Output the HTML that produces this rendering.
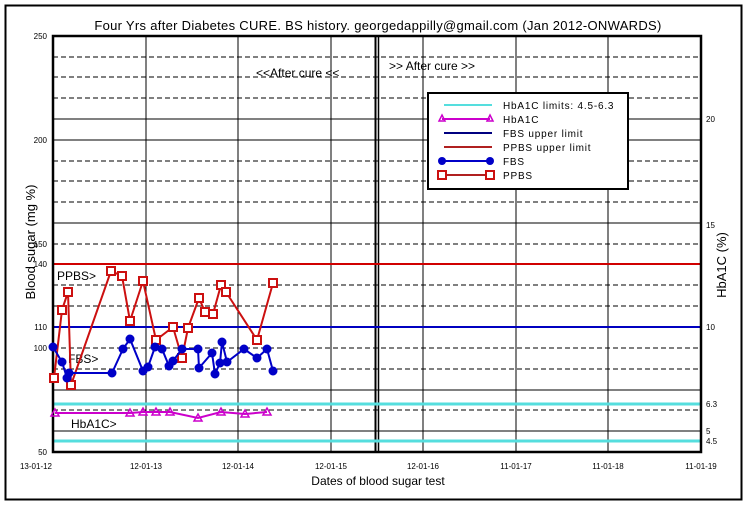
<!DOCTYPE html><html><head><style>body{margin:0;background:#fff}svg{display:block;font-family:"Liberation Sans",sans-serif}</style></head><body>
<svg width="749" height="507" xmlns="http://www.w3.org/2000/svg">
<rect x="0" y="0" width="749" height="507" fill="#fff"/>
<rect x="5.5" y="5.5" width="736" height="494" fill="none" stroke="#000" stroke-width="2"/>
<text x="378" y="30" font-size="13" text-anchor="middle" letter-spacing="0.3">Four Yrs after Diabetes CURE. BS history. georgedappilly@gmail.com (Jan 2012-ONWARDS)</text>
<g stroke="#000" stroke-width="1" stroke-dasharray="5,3">
<line x1="53" x2="701" y1="57" y2="57"/><line x1="53" x2="701" y1="77" y2="77"/><line x1="53" x2="701" y1="98" y2="98"/>
<line x1="53" x2="701" y1="161" y2="161"/><line x1="53" x2="701" y1="181" y2="181"/><line x1="53" x2="701" y1="202" y2="202"/>
<line x1="53" x2="701" y1="244" y2="244"/><line x1="53" x2="701" y1="285" y2="285"/><line x1="53" x2="701" y1="306" y2="306"/>
<line x1="53" x2="701" y1="348" y2="348"/><line x1="53" x2="701" y1="369" y2="369"/><line x1="53" x2="701" y1="410" y2="410"/>
</g>
<g stroke="#000" stroke-width="1">
<line x1="53" x2="701" y1="119" y2="119"/><line x1="53" x2="701" y1="140" y2="140"/><line x1="53" x2="701" y1="223" y2="223"/><line x1="53" x2="701" y1="390" y2="390"/><line x1="53" x2="701" y1="431" y2="431"/>
<line x1="146" x2="146" y1="36" y2="452"/><line x1="238" x2="238" y1="36" y2="452"/><line x1="331" x2="331" y1="36" y2="452"/>
<line x1="423" x2="423" y1="36" y2="452"/><line x1="516" x2="516" y1="36" y2="452"/><line x1="608" x2="608" y1="36" y2="452"/>
</g>
<line x1="375.5" x2="375.5" y1="36" y2="452" stroke="#000" stroke-width="2"/>
<line x1="378.5" x2="378.5" y1="36" y2="452" stroke="#000" stroke-width="1.5"/>
<line x1="53" x2="701" y1="404" y2="404" stroke="#55dede" stroke-width="3"/>
<line x1="53" x2="701" y1="441" y2="441" stroke="#55dede" stroke-width="3"/>
<line x1="53" x2="701" y1="264" y2="264" stroke="#d00000" stroke-width="2"/>
<line x1="53" x2="701" y1="327" y2="327" stroke="#0000c0" stroke-width="2"/>
<rect x="53" y="36" width="648" height="416" fill="none" stroke="#000" stroke-width="2.5"/>
<text x="256" y="77" font-size="12">&lt;&lt;After cure &lt;&lt;</text>
<text x="389" y="70" font-size="12">&gt;&gt; After cure &gt;&gt;</text>
<text x="57" y="280" font-size="12">PPBS&gt;</text>
<text x="68" y="363" font-size="12">FBS&gt;</text>
<text x="71" y="428" font-size="12">HbA1C&gt;</text>
<polyline fill="none" stroke="#cc00cc" stroke-width="2" points="55,413 130,413 143,412 156,412 170,412 198,418 221,412 245,414 267,412"/>
<g fill="none" stroke="#cc00cc" stroke-width="1.5">
<path d="M55,409l4,7h-8z"/><path d="M130,409l4,7h-8z"/><path d="M143,408l4,7h-8z"/><path d="M156,408l4,7h-8z"/><path d="M170,408l4,7h-8z"/><path d="M198,414l4,7h-8z"/><path d="M221,408l4,7h-8z"/><path d="M245,410l4,7h-8z"/><path d="M267,408l4,7h-8z"/></g>
<polyline fill="none" stroke="#cc1010" stroke-width="2" points="54,378 62,310 68,292 71,385 111,271 122,276 130,321 143,281 156,340 173,327 182,358 188,328 199,298 205,312 213,314 221,285 226,292 257,340 273,283"/>
<g fill="#fff" stroke="#cc1010" stroke-width="2">
<rect x="50" y="374" width="8" height="8"/><rect x="58" y="306" width="8" height="8"/><rect x="64" y="288" width="8" height="8"/><rect x="67" y="381" width="8" height="8"/><rect x="107" y="267" width="8" height="8"/><rect x="118" y="272" width="8" height="8"/><rect x="126" y="317" width="8" height="8"/><rect x="139" y="277" width="8" height="8"/><rect x="152" y="336" width="8" height="8"/><rect x="169" y="323" width="8" height="8"/><rect x="178" y="354" width="8" height="8"/><rect x="184" y="324" width="8" height="8"/><rect x="195" y="294" width="8" height="8"/><rect x="201" y="308" width="8" height="8"/><rect x="209" y="310" width="8" height="8"/><rect x="217" y="281" width="8" height="8"/><rect x="222" y="288" width="8" height="8"/><rect x="253" y="336" width="8" height="8"/><rect x="269" y="279" width="8" height="8"/></g>
<polyline fill="none" stroke="#0000c8" stroke-width="2" points="53,347 62,362 67,378 69,373 112,373 123,349 130,339 143,371 148,367 155,347 162,349 169,366 173,361 182,349 198,349 199,368 212,353 215,374 220,363 222,342 227,362 244,349 257,358 267,349 273,371"/>
<g fill="#0000c8" stroke="#0000c8">
<circle cx="53" cy="347" r="4"/><circle cx="62" cy="362" r="4"/><circle cx="67" cy="378" r="4"/><circle cx="69" cy="373" r="4"/><circle cx="112" cy="373" r="4"/><circle cx="123" cy="349" r="4"/><circle cx="130" cy="339" r="4"/><circle cx="143" cy="371" r="4"/><circle cx="148" cy="367" r="4"/><circle cx="155" cy="347" r="4"/><circle cx="162" cy="349" r="4"/><circle cx="169" cy="366" r="4"/><circle cx="173" cy="361" r="4"/><circle cx="182" cy="349" r="4"/><circle cx="198" cy="349" r="4"/><circle cx="199" cy="368" r="4"/><circle cx="212" cy="353" r="4"/><circle cx="215" cy="374" r="4"/><circle cx="220" cy="363" r="4"/><circle cx="222" cy="342" r="4"/><circle cx="227" cy="362" r="4"/><circle cx="244" cy="349" r="4"/><circle cx="257" cy="358" r="4"/><circle cx="267" cy="349" r="4"/><circle cx="273" cy="371" r="4"/></g>
<g font-size="8" text-anchor="end">
<text x="47" y="39">250</text><text x="47" y="143">200</text><text x="47" y="247">150</text><text x="47" y="267">140</text><text x="47" y="330">110</text><text x="47" y="351">100</text><text x="47" y="455">50</text></g>
<g font-size="8">
<text x="706" y="122">20</text><text x="706" y="228">15</text><text x="706" y="330">10</text><text x="706" y="407">6.3</text><text x="706" y="434">5</text><text x="706" y="444">4.5</text></g>
<g font-size="8" text-anchor="middle">
<text x="36" y="469">13-01-12</text><text x="146" y="469">12-01-13</text><text x="238" y="469">12-01-14</text><text x="331" y="469">12-01-15</text><text x="423" y="469">12-01-16</text><text x="516" y="469">11-01-17</text><text x="608" y="469">11-01-18</text><text x="701" y="469">11-01-19</text></g>
<text x="378" y="485" font-size="12" text-anchor="middle">Dates of blood sugar test</text>
<text transform="translate(35,242) rotate(-90)" font-size="13" text-anchor="middle">Blood sugar (mg %)</text>
<text transform="translate(726,265) rotate(-90)" font-size="13" text-anchor="middle">HbA1C (%)</text>
<rect x="428" y="93" width="200" height="96" fill="#fff" stroke="#000" stroke-width="2"/>
<g font-size="10" letter-spacing="0.8">
<line x1="444" x2="492" y1="105" y2="105" stroke="#55dede" stroke-width="2"/><text x="503" y="109">HbA1C limits: 4.5-6.3</text>
<line x1="442" x2="490" y1="119" y2="119" stroke="#cc00cc" stroke-width="2"/><path d="M442,115l3,6h-6zM490,115l3,6h-6z" fill="none" stroke="#cc00cc" stroke-width="1.5"/><text x="503" y="123">HbA1C</text>
<line x1="444" x2="492" y1="133" y2="133" stroke="#000080" stroke-width="2"/><text x="503" y="137">FBS upper limit</text>
<line x1="444" x2="492" y1="147" y2="147" stroke="#b02020" stroke-width="2"/><text x="503" y="151">PPBS upper limit</text>
<line x1="442" x2="490" y1="161" y2="161" stroke="#0000c8" stroke-width="2"/><circle cx="442" cy="161" r="4" fill="#0000c8"/><circle cx="490" cy="161" r="4" fill="#0000c8"/><text x="503" y="165">FBS</text>
<line x1="442" x2="490" y1="175" y2="175" stroke="#b02020" stroke-width="2"/><rect x="438" y="171" width="8" height="8" fill="#fff" stroke="#cc1010" stroke-width="2"/><rect x="486" y="171" width="8" height="8" fill="#fff" stroke="#cc1010" stroke-width="2"/><text x="503" y="179">PPBS</text>
</g>
</svg></body></html>
